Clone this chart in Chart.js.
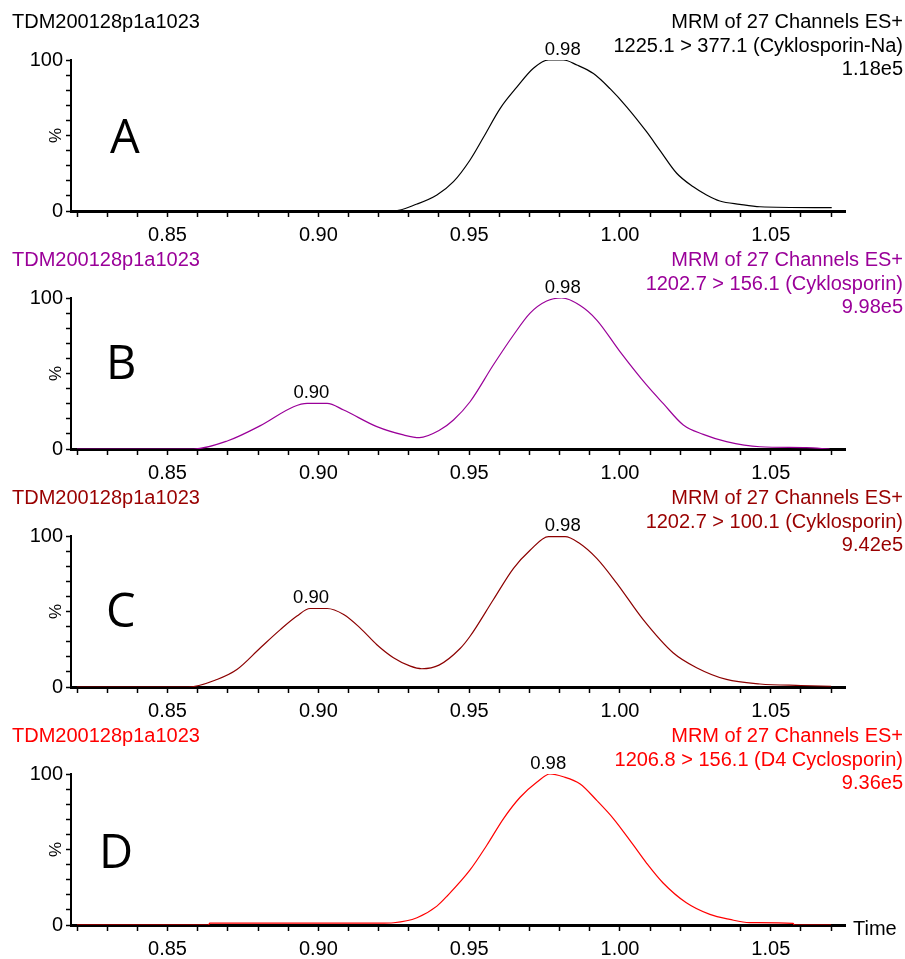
<!DOCTYPE html>
<html>
<head>
<meta charset="utf-8">
<script src="https://cdn.jsdelivr.net/npm/chart.js@4.4.1/dist/chart.umd.min.js"></script>
<style>
  html, body { margin: 0; padding: 0; background: #fff; }
  #wrap { position: relative; width: 905px; height: 959px; }
  canvas { position: absolute; left: 0; }
</style>
</head>
<body>
<div id="wrap">
  <canvas id="chartA" width="905" height="250" style="top:0px"></canvas>
  <canvas id="chartB" width="905" height="250" style="top:238px"></canvas>
  <canvas id="chartC" width="905" height="250" style="top:476px"></canvas>
  <canvas id="chartD" width="905" height="245" style="top:714px"></canvas>
</div>
<script>
'use strict';

// retention time (min) / relative intensity (%)
const timeA = [0.820, 0.925, 0.9327, 0.9393, 0.9448, 0.9503, 0.9548, 0.9603, 0.9658, 0.9713, 0.9763, 0.9812, 0.9857, 0.9912, 0.9967, 1.0022, 1.0088, 1.0133, 1.0188, 1.0243, 1.0287, 1.0331, 1.0397, 1.0464, 1.0702];
const intensityA = [0, 0, 4.6, 10.6, 19.4, 33.8, 49, 68, 82, 94.5, 100, 100, 96.7, 91, 81, 69, 52.5, 40, 25, 16, 10.6, 6.6, 4.4, 2.8, 2.2];

const timeB = [0.820, 0.8587, 0.8698, 0.8808, 0.8918, 0.8963, 0.9029, 0.9084, 0.9194, 0.9282, 0.9335, 0.9400, 0.9448, 0.9503, 0.9580, 0.9647, 0.9702, 0.9757, 0.9807, 0.9868, 0.9923, 1.0000, 1.0088, 1.0143, 1.0210, 1.0276, 1.0353, 1.0464, 1.0618, 1.0695];
const intensityB = [0, 0, 5.3, 15.5, 28, 30.2, 30.2, 25.8, 14.8, 9.3, 7.5, 12.2, 19.2, 31.3, 55.6, 75.5, 90, 98, 100, 95, 85.4, 64.5, 42.4, 30.2, 15.9, 9.7, 4.9, 1.5, 0.9, 0];

const timeC = [0.820, 0.857, 0.8664, 0.873, 0.8808, 0.8874, 0.8929, 0.8973, 0.9029, 0.9084, 0.9139, 0.9194, 0.9249, 0.9305, 0.9343, 0.9400, 0.9470, 0.9503, 0.9580, 0.9647, 0.9702, 0.9763, 0.9818, 0.9862, 0.9923, 0.9989, 1.0077, 1.0176, 1.0254, 1.0353, 1.0464, 1.0600, 1.0700];
const intensityC = [0, 0, 5, 11.6, 26, 38, 47, 52, 52, 48, 39, 28, 19.4, 13.8, 12.1, 14.5, 25.5, 33.6, 57.8, 78.6, 90.6, 99.6, 99.6, 95.7, 85.2, 68.8, 44.6, 22.7, 12.8, 5, 2, 1, 0.5];

const timeD = [0.820, 0.8636, 0.8640, 0.9205, 0.925, 0.9327, 0.9393, 0.9426, 0.9503, 0.9559, 0.9614, 0.9669, 0.9724, 0.9768, 0.9812, 0.9868, 0.9923, 0.9978, 1.0044, 1.0088, 1.0143, 1.0220, 1.0298, 1.0364, 1.0430, 1.0574, 1.0578, 1.0700];
const intensityD = [0, 0, 1.2, 1.2, 1.5, 4.8, 12.5, 19, 36.5, 53, 70.5, 84.6, 94.5, 100, 98.2, 93.4, 82.5, 70.5, 53, 41, 27.8, 14.7, 7, 3.7, 1.6, 1.1, 0, 0];

// peak apex annotations
const peakTimes = [[0.981], [0.8977, 0.981], [0.8976, 0.981], [0.9762]];
const peakValues = [[100], [30.2, 100], [52, 100], [100]];
const peakTexts = [['0.98'], ['0.90', '0.98'], ['0.90', '0.98'], ['0.98']];

const xTickValues = [0.82, 0.83, 0.84, 0.85, 0.86, 0.87, 0.88, 0.89, 0.90, 0.91, 0.92, 0.93, 0.94, 0.95, 0.96, 0.97, 0.98, 0.99, 1.00, 1.01, 1.02, 1.03, 1.04, 1.05, 1.06, 1.07];
const xTickLabels = ['0.85', '0.90', '0.95', '1.00', '1.05'];
const yTickValues = [0, 10, 20, 30, 40, 50, 60, 70, 80, 90, 100];
const yTickLabels = ['0', '100'];

const sampleName = 'TDM200128p1a1023';
const channelHeader = 'MRM of 27 Channels ES+';
const transitions = ['1225.1 > 377.1 (Cyklosporin-Na)', '1202.7 > 156.1 (Cyklosporin)', '1202.7 > 100.1 (Cyklosporin)', '1206.8 > 156.1 (D4 Cyclosporin)'];
const maxIntensities = ['1.18e5', '9.98e5', '9.42e5', '9.36e5'];
const panelLetters = ['A', 'B', 'C', 'D'];

const FONT = '"Liberation Sans", Arial, sans-serif';
const AXIS_BOTTOM = 211;

const textPlugin = {
  id: 'chromText',
  afterDraw(chart, args, o) {
    const ctx = chart.ctx;
    const xs = chart.scales.x, ys = chart.scales.y;
    ctx.save();
    ctx.textBaseline = 'alphabetic';
    ctx.font = '20px ' + FONT;
    ctx.fillStyle = o.color;
    ctx.textAlign = 'left';
    ctx.fillText(sampleName, 12, 28);
    ctx.textAlign = 'right';
    [channelHeader, transitions[o.i], maxIntensities[o.i]].forEach((s, k) => {
      ctx.fillText(s, 903, 28 + k * 23.5);
    });

    ctx.fillStyle = '#000';
    ctx.textAlign = 'center';
    ctx.font = '18.5px ' + FONT;
    peakTimes[o.i].forEach((t, k) => {
      ctx.fillText(peakTexts[o.i][k], xs.getPixelForValue(t), ys.getPixelForValue(peakValues[o.i][k]) - 5);
    });

    ctx.textAlign = 'left';
    ctx.font = '47px "Open Sans", sans-serif';
    ctx.fillText(panelLetters[o.i], o.letterX, o.letterY);

    ctx.save();
    ctx.translate(56, ys.getPixelForValue(50));
    ctx.rotate(-Math.PI / 2);
    ctx.font = '17px ' + FONT;
    ctx.textAlign = 'center';
    ctx.textBaseline = 'middle';
    ctx.fillText('%', 0, 0);
    ctx.restore();

    if (o.timeLabel) {
      ctx.font = '20px ' + FONT;
      ctx.textAlign = 'left';
      ctx.fillText('Time', 853, xs.top + 10);
    }
    ctx.restore();
  }
};

function makeChart(id, times, values, i, opts) {
  const canvas = document.getElementById(id);
  const h = canvas.height;
  return new Chart(canvas.getContext('2d'), {
    type: 'line',
    data: {
      datasets: [{
        data: times.map((t, k) => ({x: t, y: values[k]})),
        borderColor: opts.lineColor,
        borderWidth: 1.2,
        pointRadius: 0,
        fill: false,
        cubicInterpolationMode: 'monotone'
      }]
    },
    options: {
      responsive: false,
      animation: false,
      devicePixelRatio: 1,
      layout: {padding: {top: 60, right: 60, left: 0, bottom: 0}},
      plugins: {
        legend: {display: false},
        tooltip: {enabled: false},
        chromText: {i: i, color: opts.textColor, letterX: opts.letterX, letterY: opts.letterY, timeLabel: opts.timeLabel}
      },
      scales: {
        x: {
          type: 'linear',
          min: 0.818,
          max: 1.0746,
          afterBuildTicks: s => { s.ticks = xTickValues.map(v => ({value: v})); },
          afterFit: s => { s.height = h - AXIS_BOTTOM; },
          border: {display: true, color: '#000', width: 3},
          grid: {drawOnChartArea: false, drawTicks: true, tickLength: 6, tickColor: '#000', tickWidth: 1.5},
          ticks: {
            color: '#000',
            font: {size: 20, family: FONT},
            padding: 6,
            maxRotation: 0,
            autoSkip: false,
            callback: v => {
              const s = v.toFixed(2);
              return xTickLabels.includes(s) ? s : '';
            }
          }
        },
        y: {
          min: 0,
          max: 100,
          afterBuildTicks: s => { s.ticks = yTickValues.map(v => ({value: v})); },
          afterFit: s => { s.width = 71; },
          border: {display: true, color: '#000', width: 2},
          grid: {drawOnChartArea: false, drawTicks: true, tickLength: 5, tickColor: '#000', tickWidth: 1.5},
          ticks: {
            color: '#000',
            font: {size: 20, family: FONT},
            padding: 3,
            autoSkip: false,
            callback: v => yTickLabels.includes(String(v)) ? String(v) : ''
          }
        }
      }
    },
    plugins: [textPlugin]
  });
}

makeChart('chartA', timeA, intensityA, 0, {lineColor: '#000000', textColor: '#000000', letterX: 110, letterY: 153});
makeChart('chartB', timeB, intensityB, 1, {lineColor: '#9a0099', textColor: '#9a0099', letterX: 106, letterY: 141});
makeChart('chartC', timeC, intensityC, 2, {lineColor: '#8c0000', textColor: '#990000', letterX: 106, letterY: 151});
makeChart('chartD', timeD, intensityD, 3, {lineColor: '#ff0000', textColor: '#ff0000', letterX: 99, letterY: 154, timeLabel: true});
</script>
</body>
</html>
